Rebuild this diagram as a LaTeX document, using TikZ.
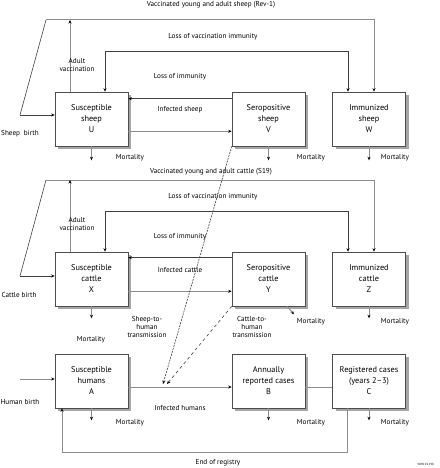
\documentclass[tikz,border=0pt]{standalone}
\usepackage{fontspec}
\setmainfont{PT Sans}
\usetikzlibrary{positioning,arrows.meta,shadows}

\begin{document}
\begin{tikzpicture}[
  x=1pt, y=-1pt,
  >={Stealth[length=3.5pt,width=3pt,color=black]},
  box/.style={draw=black!70, fill=white, line width=0.6pt, minimum width=73pt,
    minimum height=54pt, align=center, inner sep=1pt,
    font=\fontsize{8.3}{11}\selectfont,
    drop shadow={shadow xshift=3pt, shadow yshift=-3pt, fill=black!35, opacity=1}},
  lbl/.style={font=\fontsize{7.2}{8}\selectfont, align=center, inner sep=0pt},
  flow/.style={draw=black!45, line width=1pt, ->},
  back/.style={draw=black!75, line width=0.6pt, ->}
]
\useasboundingbox (0,0) rectangle (439,468);

% sheep
\node[box] (U) at (91.5,119) {Susceptible\\sheep\\U};
\node[box] (V) at (268.5,119) {Seropositive\\sheep\\V};
\node[box] (W) at (369,119) {Immunized\\sheep\\W};

\coordinate (sb) at (20,115);
\coordinate (sv) at (46,20);
\draw[back,-] (sv) -- (sb);
\draw[back] (sb) -- (U.west |- sb);
\draw[flow] (sv) -| ([xshift=5pt]W.north);
\draw[flow] ([xshift=-21.5pt]U.north) -- ([xshift=-21.5pt]U.north |- sv);
\draw[back,<->] ([xshift=13.5pt]U.north) -- ++(0,-40) -| ([xshift=-21pt]W.north);
\draw[back] ([yshift=-7pt]V.north west) -- ([yshift=-7pt]U.north east);
\draw[flow] ([yshift=15pt]U.south east) -- ([yshift=15pt]V.south west);

\node[lbl] (sl1) at (211,5) {Vaccinated young and adult sheep (Rev-1)};
\node[lbl] (sl2) at (77,65) {Adult\\vaccination};
\node[lbl] (sl3) at (213,37) {Loss of vaccination immunity};
\node[lbl] (sl4) at (180,77) {Loss of immunity};
\node[lbl] (sl5) at (180,110) {Infected sheep};
\node[lbl] (sl6) at (20,134) {Sheep~~birth};

\foreach \n in {U,V,W}
  \draw[flow] (\n.south) -- ++(0,14);
\node[lbl] (mU) at (130,158) {Mortality};
\node[lbl] (mV) at (311,158) {Mortality};
\node[lbl] (mW) at (395,158) {Mortality};

% cattle
\node[box] (X) at (91.5,279) {Susceptible\\cattle\\X};
\node[box] (Y) at (268.5,279) {Seropositive\\cattle\\Y};
\node[box] (Z) at (369,279) {Immunized\\cattle\\Z};

\coordinate (cb) at (20,276);
\coordinate (cv) at (46,180);
\draw[back,-] (cv) -- (cb);
\draw[back] (cb) -- (X.west |- cb);
\draw[flow] (cv) -| ([xshift=5pt]Z.north);
\draw[flow] ([xshift=-21.5pt]X.north) -- ([xshift=-21.5pt]X.north |- cv);
\draw[back,<->] ([xshift=13.5pt]X.north) -- ++(0,-40) -| ([xshift=-21pt]Z.north);
\draw[back] ([yshift=-6pt]Y.north west) -- ([yshift=-6pt]X.north east);
\draw[flow] ([yshift=15pt]X.south east) -- ([yshift=15pt]Y.south west);

\node[lbl] (cl1) at (211,172) {Vaccinated young and adult cattle (S19)};
\node[lbl] (cl2) at (77,224) {Adult\\vaccination};
\node[lbl] (cl3) at (213,197) {Loss of vaccination immunity};
\node[lbl] (cl4) at (180,237) {Loss of immunity};
\node[lbl] (cl5) at (180,270) {Infected cattle};
\node[lbl] (cl6) at (19,295) {Cattle birth};

\draw[flow] (X.south) -- ++(0,12);
\draw[flow] ([xshift=18.5pt]Y.south) -- ++(7,8);
\draw[flow] (Z.south) -- ++(0,12);
\node[lbl] (mX) at (91,340) {Mortality};
\node[lbl] (mY) at (311,322) {Mortality};
\node[lbl] (mZ) at (395,322) {Mortality};

\node[lbl] (st) at (147,327) {Sheep-to-\\human\\transmission};
\node[lbl] (ct) at (252,327) {Cattle-to-\\human\\transmission};

% humans
\node[box] (A) at (91.5,381) {Susceptible\\humans\\A};
\node[box] (B) at (268.5,381) {Annually\\reported cases\\B};
\node[box] (C) at (369,381) {Registered cases\\(years 2--3)\\C};

\coordinate (hb) at (20,379);
\draw[flow] (hb) -- (A.west |- hb);
\draw[flow] ([yshift=-6pt]A.east) -- ([yshift=-6pt]B.west);
\draw[flow,-] ([yshift=-6pt]B.east) -- ([yshift=-6pt]C.west);
\coordinate (er) at (62,452);
\draw[flow] ([xshift=-22pt]C.south) |- (er) -- (A.south -| er);

\coordinate (ts) at (163,384);
\coordinate (tc) at (167,384);
\draw[back,dash pattern=on 2pt off 1pt] (V.south west) -- (ts);
\draw[back,dash pattern=on 3pt off 3pt] (Y.south west) -- (tc);

\node[lbl] (hl1) at (20,402) {Human birth};
\node[lbl] (hl2) at (180,408) {Infected humans};
\node[lbl] (hl3) at (218,463) {End of registry};

\foreach \n in {A,B,C}
  \draw[flow] (\n.south) -- ++(0,12);
\node[lbl] (mA) at (130,423) {Mortality};
\node[lbl] (mB) at (311,423) {Mortality};
\node[lbl] (mC) at (395,423) {Mortality};

\node[inner sep=0pt,anchor=east,font=\fontsize{3}{3}\selectfont] (who) at (434,464) {WHO 02.198};

\end{tikzpicture}
\end{document}
